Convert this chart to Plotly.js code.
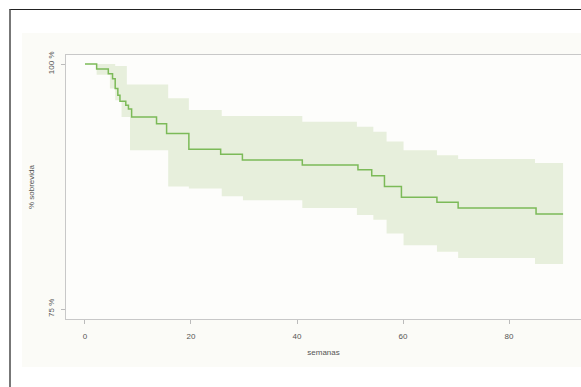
<!DOCTYPE html>
<html>
<head>
<meta charset="utf-8">
<script src="https://cdn.plot.ly/plotly-3.0.1.min.js"></script>
<style>
  html, body { margin: 0; padding: 0; background: #ffffff; width: 581px; height: 387px; overflow: hidden; }
  #frame { position: absolute; left: 9px; top: 9px; width: 572px; height: 378px;
           border-top: 1.5px solid #222; border-left: 2px solid #777; box-sizing: border-box; }
  #panel { position: absolute; left: 22px; top: 33px; width: 559px; height: 334px; background: #fbfbf7; }
  #chart { position: absolute; left: 0; top: 0; width: 581px; height: 387px; }
</style>
</head>
<body>
<div id="frame"></div>
<div id="panel"></div>
<div id="chart"></div>
<script>
// Kaplan-Meier survival estimate (weeks, % survival)
const kmTime = [0, 2.2, 4.4, 5.2, 5.7, 6.2, 6.6, 7.7, 8.2, 8.8, 13.5, 15.4, 19.6, 25.6, 29.7, 41.0, 51.5, 54.1, 56.5, 59.7, 66.4, 70.4, 85.1, 90.2];
const kmSurv = [100, 99.5, 99.0, 98.5, 97.5, 96.8, 96.2, 95.8, 95.4, 94.6, 93.9, 92.9, 91.3, 90.8, 90.2, 89.7, 89.2, 88.6, 87.5, 86.4, 85.9, 85.3, 84.7, 84.7];

// Confidence band
const ciTime  = [0, 2.2, 4.7, 5.7, 6.9, 7.9, 8.5, 15.7, 19.6, 25.8, 29.8, 41.0, 51.3, 54.4, 56.9, 60.1, 66.4, 70.4, 84.9, 90.2];
const ciUpper = [100, 100, 100, 99.8, 99.8, 97.9, 97.9, 96.5, 95.3, 94.7, 94.7, 94.1, 93.6, 93.1, 92.1, 91.2, 90.7, 90.3, 89.9, 89.9];
const ciLower = [100, 98.9, 97.5, 96.3, 94.6, 94.6, 91.2, 87.5, 87.3, 86.5, 86.1, 85.3, 84.6, 84.1, 82.7, 81.5, 80.85, 80.2, 79.6, 79.6];

const xTicks = [0, 20, 40, 60, 80];
const yTicks = [75, 100];
const yTickText = ['75 %', '100 %'];

const font = {family: 'Liberation Sans, Arial, sans-serif', size: 8, color: '#555'};

const traces = [
  {x: ciTime, y: ciLower, type: 'scatter', mode: 'lines', line: {shape: 'hv', width: 0, color: 'rgba(0,0,0,0)'},
   hoverinfo: 'skip', showlegend: false},
  {x: ciTime, y: ciUpper, type: 'scatter', mode: 'lines', line: {shape: 'hv', width: 0, color: 'rgba(0,0,0,0)'},
   fill: 'tonexty', fillcolor: '#e7efdc', hoverinfo: 'skip', showlegend: false},
  {x: kmTime, y: kmSurv, type: 'scatter', mode: 'lines', line: {shape: 'hv', width: 1.5, color: '#7cba58'},
   showlegend: false}
];

const layout = {
  width: 581, height: 387,
  margin: {l: 66, r: 0, t: 55, b: 68},
  paper_bgcolor: 'rgba(0,0,0,0)',
  plot_bgcolor: '#fdfdfb',
  font: font,
  showlegend: false,
  xaxis: {
    range: [-3.58, 93.58], tickvals: xTicks, ticktext: xTicks.map(String),
    showgrid: false, zeroline: false, showline: true, mirror: true, linecolor: '#c8c8c8', linewidth: 1,
    ticks: 'outside', ticklen: 4, tickcolor: '#bbb', tickfont: font, ticklabelstandoff: 5,
    title: {text: 'semanas', font: font, standoff: 9}
  },
  yaxis: {
    range: [73.98, 100.92], tickvals: yTicks, ticktext: yTickText, tickangle: -90,
    showgrid: false, zeroline: false, showline: true, linecolor: '#c8c8c8', linewidth: 1,
    ticks: 'outside', ticklen: 4, tickcolor: '#bbb', tickfont: font, ticklabelstandoff: 4,
    title: {text: '% sobrevida', font: font, standoff: 10}
  }
};

Plotly.newPlot('chart', traces, layout, {staticPlot: true, displayModeBar: false});
</script>
</body>
</html>
